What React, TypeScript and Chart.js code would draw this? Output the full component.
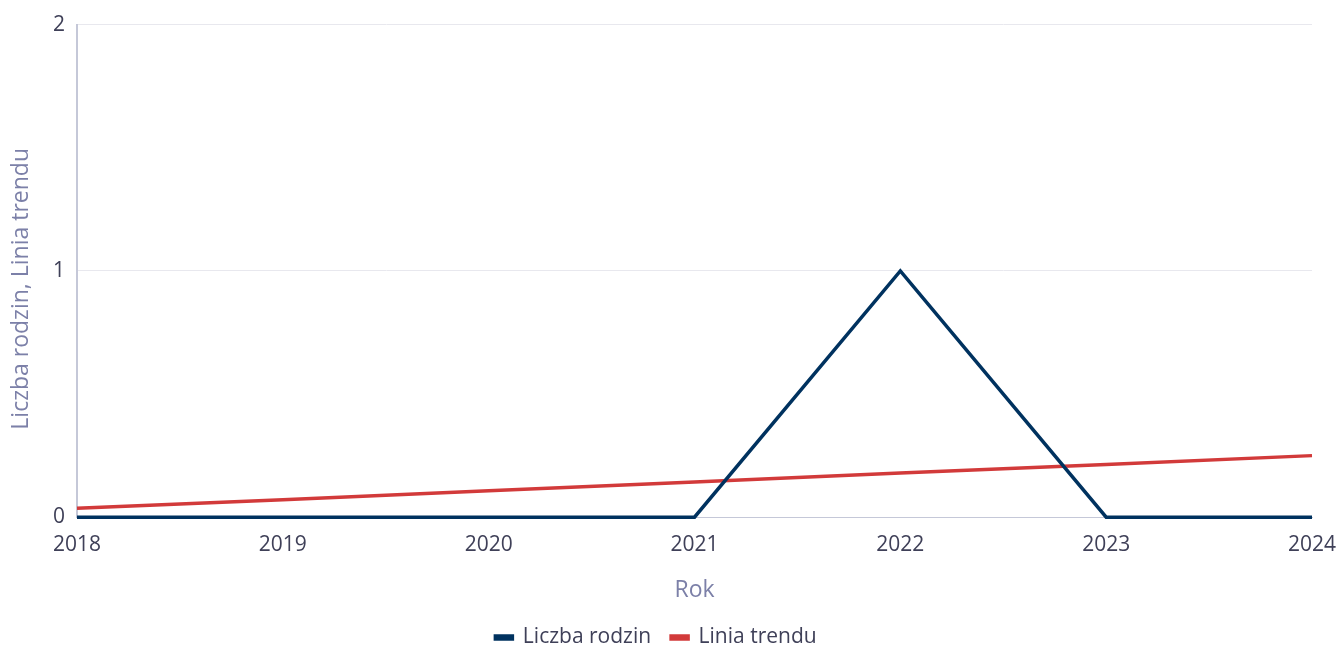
import React, { useEffect, useRef } from "react";
import { Chart, registerables } from "chart.js";

Chart.register(...registerables);

const years = ["2018", "2019", "2020", "2021", "2022", "2023", "2024"];
const familyCounts = [0, 0, 0, 0, 1, 0, 0];
const trendValues = [0.036, 0.071, 0.107, 0.143, 0.179, 0.214, 0.25];
const yTicks = [0, 1, 2];

const FONT = "'Open Sans', sans-serif";
const TICK_COLOR = "#3f4058";
const TITLE_COLOR = "#7c80a8";

export default function App() {
  const ref = useRef<HTMLCanvasElement | null>(null);
  useEffect(() => {
    if (!ref.current) return;
    const chart = new Chart(ref.current, {
      type: "line",
      data: {
        labels: years,
        datasets: [
          {
            label: "Liczba rodzin",
            data: familyCounts,
            borderColor: "#00325f",
            backgroundColor: "#00325f",
            borderWidth: 3.5,
            pointRadius: 0,
            tension: 0,
            clip: false,
          },
          {
            label: "Linia trendu",
            data: trendValues,
            borderColor: "#d23a3a",
            backgroundColor: "#d23a3a",
            borderWidth: 3.5,
            pointRadius: 0,
            tension: 0,
            clip: false,
          },
        ],
      },
      options: {
        animation: false,
        responsive: false,
        maintainAspectRatio: false,
        layout: { padding: { left: 0, right: 26, top: 12, bottom: -11 } },
        plugins: {
          legend: {
            position: "bottom",
            labels: {
              boxWidth: 17,
              boxHeight: 3,
              color: TICK_COLOR,
              font: { family: FONT, size: 21 },
              padding: 20,
            },
          },
          tooltip: { enabled: false },
        },
        scales: {
          x: {
            offset: false,
            afterFit: (axis: any) => {
              axis.paddingRight = 0;
            },
            grid: { display: false, drawTicks: false },
            border: { display: true, color: "#c5c8d8", width: 1 },
            ticks: {
              color: TICK_COLOR,
              font: { family: FONT, size: 21 },
              padding: 15,
              maxRotation: 0,
              autoSkip: false,
            },
            title: {
              display: true,
              text: "Rok",
              color: TITLE_COLOR,
              font: { family: FONT, size: 23 },
              padding: { top: 4, bottom: 3 },
            },
          },
          y: {
            min: 0,
            max: 2,
            afterBuildTicks: (axis: any) => {
              axis.ticks = yTicks.map((v) => ({ value: v }));
            },
            afterFit: (axis: any) => {
              axis.width = 77;
            },
            grid: { color: "#e8e8ee", drawTicks: false },
            border: { display: true, color: "#c5c8d8", width: 2 },
            ticks: {
              color: TICK_COLOR,
              font: { family: FONT, size: 21 },
              padding: 12,
            },
            title: {
              display: true,
              text: "Liczba rodzin, Linia trendu      ",
              color: TITLE_COLOR,
              font: { family: FONT, size: 23 },
              padding: { top: 8, bottom: 0 },
            },
          },
        },
      },
    });
    return () => chart.destroy();
  }, []);
  return (
    <div style={{ position: "absolute", left: 0, top: 0, width: 1338, height: 647, background: "#fff" }}>
      <canvas ref={ref} width={1338} height={647} />
    </div>
  );
}
